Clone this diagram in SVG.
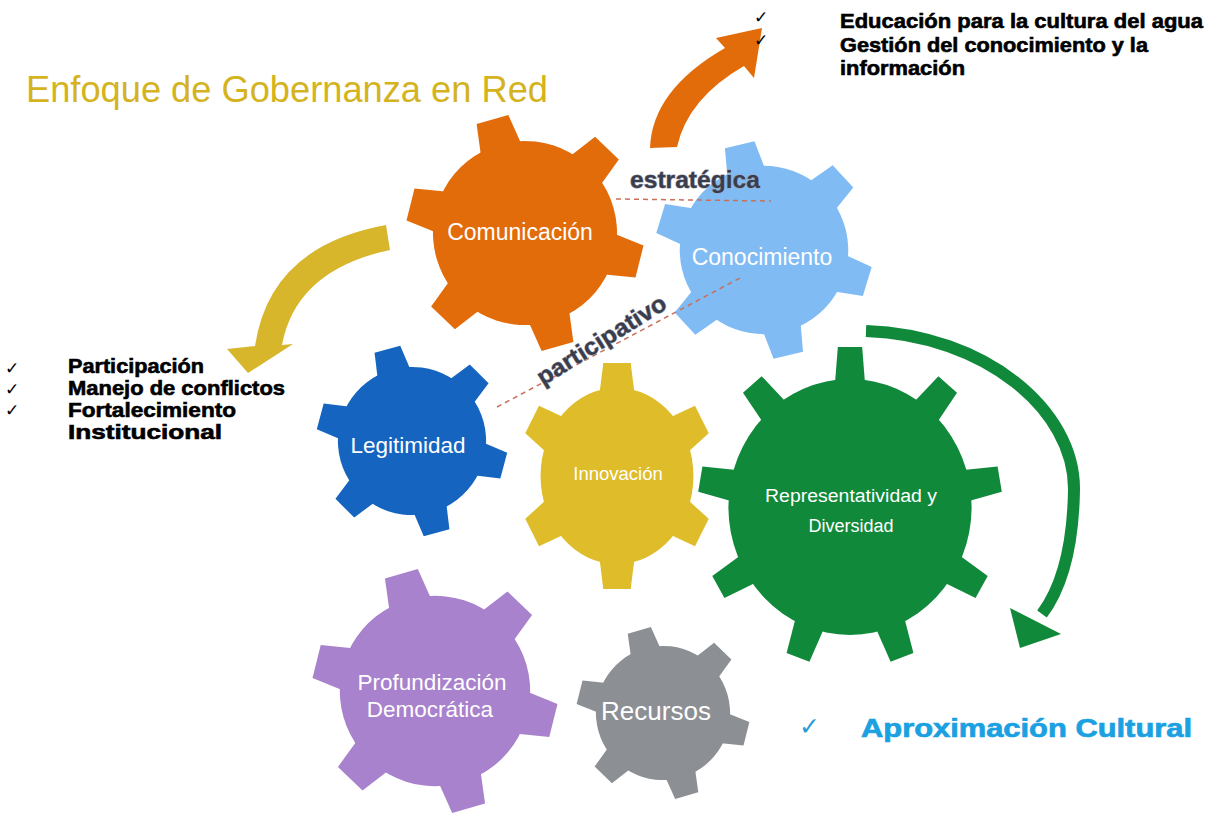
<svg xmlns="http://www.w3.org/2000/svg" xmlns:xlink="http://www.w3.org/1999/xlink" width="1213" height="825" viewBox="0 0 1213 825">
<style>
.lbl{font-family:"Liberation Sans",Arial,sans-serif;fill:#ffffff;text-anchor:middle}
.blk{font-family:"Liberation Sans",Arial,sans-serif;font-weight:bold;fill:#000000;stroke:#000000;stroke-width:0.6}
.chk{font-family:"DejaVu Sans",sans-serif;font-size:17px;fill:#000000}
.tag{font-family:"Liberation Sans",Arial,sans-serif;font-weight:bold;fill:#3a3d4b;stroke:#9aa0b2;stroke-width:1;paint-order:stroke}
.dash{fill:none;stroke:#c8705a;stroke-width:1.5;stroke-dasharray:5 4}
</style>
<defs>
<g id="g6">
<circle r="78"/>
<polygon id="t6" points="-18,-72 18,-72 14,-100 -14,-100"/>
<use xlink:href="#t6" transform="rotate(60)"/>
<use xlink:href="#t6" transform="rotate(120)"/>
<use xlink:href="#t6" transform="rotate(180)"/>
<use xlink:href="#t6" transform="rotate(240)"/>
<use xlink:href="#t6" transform="rotate(300)"/>
</g>
<g id="g9">
<circle r="80"/>
<polygon id="t9" points="-10,-76 10,-76 8,-100 -8,-100"/>
<use xlink:href="#t9" transform="rotate(40)"/>
<use xlink:href="#t9" transform="rotate(80)"/>
<use xlink:href="#t9" transform="rotate(120)"/>
<use xlink:href="#t9" transform="rotate(160)"/>
<use xlink:href="#t9" transform="rotate(200)"/>
<use xlink:href="#t9" transform="rotate(240)"/>
<use xlink:href="#t9" transform="rotate(280)"/>
<use xlink:href="#t9" transform="rotate(320)"/>
</g>
</defs>
<rect width="1213" height="825" fill="#ffffff"/>

<text x="26" y="102" font-family="'Liberation Sans',Arial,sans-serif" font-size="37" fill="#d4b31e" textLength="522" lengthAdjust="spacingAndGlyphs">Enfoque de Gobernanza en Red</text>

<g id="connectors">
<path id="arrow-orange" d="M 650,148 Q 652,90 725,48 L 716,38 L 762,28 L 754,78 L 744,66 Q 688,98 677,147 Z" fill="#e36c0a"/>
<path id="arrow-yellow" d="M 386,225 Q 270,246 255,346 L 227,349 L 248,373 L 293,344 L 282,345 Q 296,270 390,250 Z" fill="#d8b62c"/>
<g id="arrow-green">
<path d="M 866,331 C 985,335 1075,410 1074,490 C 1073,550 1060,590 1042,614" fill="none" stroke="#10893a" stroke-width="12"/>
<polygon points="1010,608 1061,634 1020,648" fill="#10893a"/>
</g>
</g>

<g id="node-comunicacion">
<use xlink:href="#g6" fill="#e36c0a" transform="translate(525,233) rotate(-16) scale(1.18)"/>
<text class="lbl" x="520" y="240" font-size="23">Comunicación</text>
</g>
<g id="node-conocimiento">
<use xlink:href="#g6" fill="#80bbf4" transform="translate(764,250) rotate(-13) scale(1.08)"/>
<text class="lbl" x="762" y="265" font-size="23">Conocimiento</text>
</g>
<g id="node-legitimidad">
<use xlink:href="#g6" fill="#1464c0" transform="translate(412,441) rotate(-15) scale(0.95)"/>
<text class="lbl" x="408" y="453" font-size="22.5">Legitimidad</text>
</g>
<g id="node-innovacion">
<use xlink:href="#g6" fill="#dfbc2a" transform="translate(617,476) scale(0.98,1.13)"/>
<text class="lbl" x="618" y="480" font-size="18.5">Innovación</text>
</g>
<g id="node-representatividad">
<use xlink:href="#g9" fill="#10893a" transform="translate(850,507) scale(1.52,1.6)"/>
<text class="lbl" x="851" y="502" font-size="18" textLength="172" lengthAdjust="spacingAndGlyphs">Representatividad y</text>
<text class="lbl" x="851" y="532" font-size="18">Diversidad</text>
</g>
<g id="node-profundizacion">
<use xlink:href="#g6" fill="#a882cc" transform="translate(435,691) rotate(-16) scale(1.22)"/>
<text class="lbl" x="432" y="690" font-size="22.5">Profundización</text>
<text class="lbl" x="430" y="717" font-size="22.5">Democrática</text>
</g>
<g id="node-recursos">
<use xlink:href="#g6" fill="#8c8f94" transform="translate(663,713) rotate(-16) scale(0.86)"/>
<text class="lbl" x="656" y="720" font-size="26">Recursos</text>
</g>

<g id="dashed">
<line class="dash" x1="616" y1="199" x2="771" y2="201"/>
<line class="dash" x1="497" y1="407" x2="740" y2="278"/>
</g>
<text class="tag" x="630" y="188" font-size="24" textLength="130" lengthAdjust="spacingAndGlyphs">estratégica</text>
<text class="tag" font-size="24" transform="translate(543,386) rotate(-32)" textLength="148" lengthAdjust="spacingAndGlyphs">participativo</text>

<g id="list-top">
<text class="chk" x="754" y="23">✓</text>
<text class="chk" x="754" y="46">✓</text>
<text class="blk" x="840" y="28" font-size="20" textLength="363" lengthAdjust="spacingAndGlyphs">Educación para la cultura del agua</text>
<text class="blk" x="840" y="52" font-size="20" textLength="308" lengthAdjust="spacingAndGlyphs">Gestión del conocimiento y la</text>
<text class="blk" x="840" y="75" font-size="20" textLength="125" lengthAdjust="spacingAndGlyphs">información</text>
</g>

<g id="list-left">
<text class="chk" x="5" y="374">✓</text>
<text class="chk" x="5" y="395">✓</text>
<text class="chk" x="5" y="416">✓</text>
<text class="blk" x="68" y="373" font-size="20" textLength="136" lengthAdjust="spacingAndGlyphs">Participación</text>
<text class="blk" x="68" y="395" font-size="20" textLength="217" lengthAdjust="spacingAndGlyphs">Manejo de conflictos</text>
<text class="blk" x="68" y="417" font-size="20" textLength="168" lengthAdjust="spacingAndGlyphs">Fortalecimiento</text>
<text class="blk" x="68" y="439" font-size="20" textLength="154" lengthAdjust="spacingAndGlyphs">Institucional</text>
</g>

<g id="list-bottom">
<text x="799" y="735" font-family="'DejaVu Sans',sans-serif" font-size="25" fill="#2a9bd8">✓</text>
<text x="861" y="737" font-family="'Liberation Sans',Arial,sans-serif" font-weight="bold" font-size="25" fill="#1ba1e2" stroke="#1ba1e2" stroke-width="0.7" textLength="331" lengthAdjust="spacingAndGlyphs">Aproximación Cultural</text>
</g>
</svg>
